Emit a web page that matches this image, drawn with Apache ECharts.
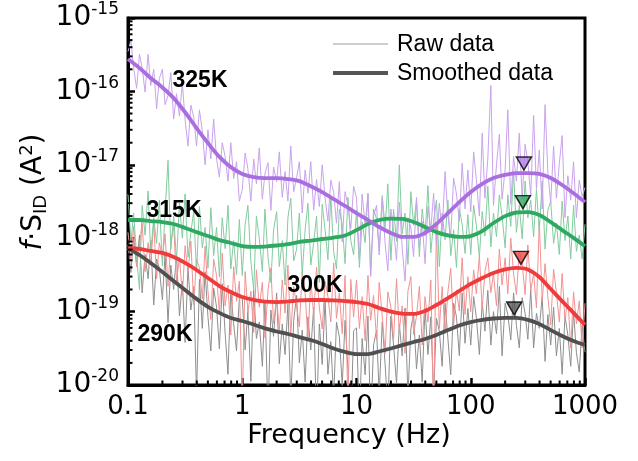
<!DOCTYPE html>
<html><head><meta charset="utf-8">
<script src="https://cdn.jsdelivr.net/npm/echarts@6/dist/echarts.min.js"></script>
<style>html,body{margin:0;padding:0;background:#fff}#c{width:638px;height:461px}</style>
</head><body><div id="c"></div>
<script>
// ---------------- data ----------------
const rawFreq = [
  0.1,0.106,0.112,0.119,0.126,0.133,0.141,0.15,0.158,0.168,0.178,0.188,0.2,0.211,0.224,0.237,0.251,0.266,0.282,0.299,
  0.316,0.335,0.355,0.376,0.398,0.422,0.447,0.473,0.501,0.531,0.562,0.596,0.631,0.668,0.708,0.75,0.794,0.841,0.891,0.944,
  1,1.06,1.12,1.19,1.26,1.33,1.41,1.5,1.58,1.68,1.78,1.88,2,2.11,2.24,2.37,2.51,2.66,2.82,2.99,
  3.16,3.35,3.55,3.76,3.98,4.22,4.47,4.73,5.01,5.31,5.62,5.96,6.31,6.68,7.08,7.5,7.94,8.41,8.91,9.44,
  10,10.6,11.2,11.9,12.6,13.3,14.1,15,15.8,16.8,17.8,18.8,20,21.1,22.4,23.7,25.1,26.6,28.2,29.9,
  31.6,33.5,35.5,37.6,39.8,42.2,44.7,47.3,50.1,53.1,56.2,59.6,63.1,66.8,70.8,75,79.4,84.1,89.1,94.4,
  100,106,112,119,126,133,141,150,158,168,178,188,200,211,224,237,251,266,282,299,
  316,335,355,376,398,422,447,473,501,531,562,596,631,668,708,750,794,841,891,944,1000];

const raw325 = [
  3.5e-16,5e-16,2.1e-16,1.1e-16,3.2e-16,2.1e-16,9.8e-17,3.2e-16,1.2e-16,2e-16,5.8e-17,1.5e-16,2e-16,6.6e-17,8.7e-17,1.8e-16,4.2e-17,9.3e-17,4.6e-17,1.3e-16,
  4.1e-17,1.8e-17,6.5e-17,4.5e-17,1.8e-17,5.6e-17,2.9e-17,1e-17,3e-17,1.2e-17,4.2e-17,1.2e-17,6.8e-18,2e-17,1.3e-17,6e-18,2e-17,6.5e-18,1.1e-17,3.2e-18,
  4.6e-18,1.45e-17,8.9e-18,3.2e-18,1.2e-17,5.5e-18,1.7e-17,3.4e-18,7.6e-18,1.07e-17,2.4e-18,9.3e-18,5.9e-18,1.5e-17,3.6e-18,8.1e-18,3.2e-18,1.8e-17,4.3e-18,6.6e-18,
  1.1e-17,2.2e-18,8.5e-18,4.1e-18,1.1e-17,2.4e-18,6.3e-18,2.7e-18,1e-17,3.5e-18,1.7e-18,6.2e-18,4.2e-18,1.6e-18,5.9e-18,8.9e-19,4.3e-18,2.8e-18,1.35e-18,5.1e-18,
  3.5e-18,5.2e-19,4e-18,1.5e-18,4.1e-18,3e-19,2e-18,2.8e-18,5.9e-19,3.5e-18,8.5e-19,3.6e-19,2.5e-18,1.3e-18,5e-19,3.1e-18,7.4e-19,2.6e-19,1.9e-18,1.4e-18,
  5.6e-19,3.6e-18,7.4e-19,1.7e-18,4.5e-19,2.7e-18,1.3e-18,4.1e-18,7.9e-19,3e-18,1.2e-18,8.1e-18,2e-18,1.07e-18,6.6e-18,4e-18,1.7e-18,1.05e-17,2.5e-18,8.5e-18,
  2.3e-18,1.5e-17,6.2e-18,2e-18,2.7e-17,3.5e-18,1.2e-17,1.2e-16,2.8e-18,1e-17,2.6e-17,3.4e-18,8.7e-18,5.6e-17,2.9e-18,1.3e-17,6e-18,2.7e-17,3.4e-18,1.9e-17,
  1.07e-17,3.8e-18,4.7e-17,4.7e-18,1.6e-17,2.5e-18,6.6e-17,7.9e-18,3e-18,1.8e-17,3.5e-18,1.05e-17,2.5e-17,1.9e-18,7.1e-18,3.3e-18,1.1e-17,1.9e-18,6.2e-18,3.7e-18,4.9e-18];

const raw315 = [
  4e-18,8.9e-19,2.2e-18,5.6e-19,2e-19,2.8e-18,1.1e-18,4.4e-18,6.2e-19,1.9e-18,8.5e-19,3.3e-18,4.2e-19,2.3e-18,1.15e-17,7.1e-19,2e-18,4.9e-19,3e-18,1e-18,
  4e-18,5.5e-19,1.2e-18,2.3e-18,3.5e-19,2.7e-18,7.4e-19,1.4e-18,3.9e-19,2.6e-18,5.8e-19,1.4e-18,3e-19,1.9e-18,7.2e-19,2.8e-18,3.8e-19,9.3e-19,3.2e-19,1.8e-18,
  3.1e-19,1.55e-18,2.8e-18,4.9e-19,1.95e-19,2e-18,1e-18,3.5e-19,2.5e-18,5.6e-19,2.5e-19,1.3e-18,2.3e-18,4.1e-19,9.3e-19,2.3e-19,1.9e-18,3.5e-18,4.9e-19,7.1e-19,
  2.2e-18,3.2e-19,1.3e-18,3e-18,4.3e-19,8.7e-19,2e-18,2.5e-19,2.9e-18,1.3e-18,5.1e-19,3.7e-18,6.6e-19,3.8e-19,2.5e-18,1.55e-18,4.5e-19,3.6e-18,9.3e-19,5.9e-19,
  2.4e-18,4e-19,1.66e-18,8.7e-19,4e-18,3.3e-19,2.5e-18,1.8e-18,6.8e-19,3.8e-18,1.4e-18,5.5e-18,5e-19,2.5e-18,9.1e-19,1e-17,1.15e-18,2.2e-18,4.4e-19,4.3e-18,
  1.5e-18,3.2e-18,5.6e-19,2.5e-18,1.07e-18,5.2e-18,6.3e-19,1.7e-18,3.3e-18,4.1e-19,2.2e-18,9.5e-19,3.3e-18,5.8e-19,1.3e-18,4e-19,2.5e-18,1.55e-18,6.2e-19,2.1e-18,
  6e-19,2.8e-18,1.5e-18,5.5e-19,2.3e-18,1.07e-18,5.1e-18,7.6e-19,2.2e-18,1.05e-18,3.9e-18,2e-18,7.4e-19,3.9e-18,1.45e-18,8.3e-18,1.2e-18,2.8e-18,9.8e-19,6e-18,
  1.9e-18,3.3e-18,1.05e-18,4.6e-18,1.26e-18,6e-18,7.1e-19,2.4e-18,3.2e-18,8.5e-19,1.6e-18,6e-19,3.2e-18,9.3e-19,2e-18,5.2e-19,2.8e-18,6.6e-19,1.1e-18,5.2e-19,1.55e-18];

const raw300 = [
  1.2e-18,5.2e-19,1.45e-18,4.1e-19,7.9e-19,1.6e-18,3.5e-19,8.7e-19,4.3e-19,1.66e-18,2.8e-19,8.7e-19,5.4e-19,1.15e-18,2.2e-19,8.7e-19,1.5e-18,2.6e-19,5.5e-19,1.66e-19,
  7.9e-19,3.4e-19,9.1e-19,1.23e-19,5.2e-19,3.9e-19,1.48e-19,7.8e-19,1.86e-19,7.8e-20,5.2e-19,3.1e-19,9.3e-20,6.3e-19,1.2e-19,2.3e-19,4.8e-20,4.1e-19,1.38e-19,2.6e-19,
  5e-21,3.5e-19,9.8e-20,1.9e-19,5.2e-20,3.7e-19,1.15e-19,2.5e-19,4.4e-20,1.95e-19,3.9e-19,6.9e-20,1.55e-19,5.5e-20,2.7e-19,9.5e-20,4.3e-19,4.8e-20,2.2e-19,1.23e-19,
  6.2e-20,3.5e-19,1.8e-19,4e-20,2.8e-19,8.9e-20,4e-19,1.12e-19,5.8e-20,2.6e-19,1.6e-19,7.2e-20,4.6e-19,8.1e-20,1.8e-19,5e-20,3.1e-19,5.5e-21,2.75e-19,8.5e-20,
  2.7e-19,5.9e-20,1.6e-19,4e-20,3.1e-19,7.6e-20,1.66e-19,4.1e-20,2.5e-19,8.7e-20,2.7e-20,1.86e-19,1.15e-19,4.1e-20,2.8e-19,5.5e-20,1.2e-19,2.7e-20,1.9e-19,3e-19,
  4.9e-20,8.7e-20,2.2e-19,3.5e-20,1.6e-19,7.2e-20,2.7e-19,4.4e-21,1.45e-18,5.9e-20,2.2e-19,5e-20,1.86e-19,3.9e-19,6.5e-20,1.95e-19,1.02e-19,5.4e-19,9.1e-20,3e-19,
  1e-19,3.7e-19,1.74e-19,5.8e-19,1.07e-19,3.5e-19,5.4e-19,1.8e-19,3.3e-19,1.2e-19,7.1e-19,2.3e-19,5.4e-19,1.74e-19,1e-18,3.3e-19,1.7e-19,6.6e-19,4.5e-19,1.7e-19,
  8.1e-19,1.95e-19,3.3e-19,1.12e-19,1.7e-18,1.38e-19,4.5e-19,1.6e-19,6.6e-20,3.8e-19,1.8e-19,7.2e-20,3.3e-19,7.6e-20,1.55e-19,3.2e-20,1.86e-19,6.8e-20,1.4e-19,3.2e-20,1.3e-19];

const raw290 = [
  8.1e-19,3.4e-19,1e-18,4.2e-19,1.1e-18,1.8e-19,6e-19,2.8e-19,9.3e-19,1.23e-19,5.2e-19,3.9e-19,1.45e-19,6e-19,7.1e-20,4.3e-19,2e-19,5.9e-19,8.7e-20,2.6e-19,
  3.8e-20,4e-19,1.05e-19,2.2e-19,7.2e-21,2.75e-19,5.9e-20,3.5e-19,8.5e-20,2.9e-20,2.1e-19,1.15e-19,3.1e-20,2.4e-19,5.1e-20,1.4e-20,1.95e-19,6.8e-20,2.9e-20,1.6e-19,
  1.55e-19,3e-20,1.02e-19,1.12e-20,1.95e-19,4.3e-20,7.2e-20,1.8e-20,1.38e-19,3.8e-21,1.05e-19,4.6e-20,1.8e-19,1.95e-20,6.8e-20,2.6e-20,1.26e-19,6.2e-21,7.6e-20,1.66e-19,
  2e-20,5.6e-20,1.1e-20,8.5e-20,3e-20,1.15e-19,3.1e-21,6.8e-20,1.9e-20,1.45e-19,1.4e-20,3.9e-20,6.6e-21,7.2e-20,4.5e-20,9.8e-21,7.6e-20,1.66e-20,2.8e-21,5.5e-20,
  6e-20,3.4e-21,4.3e-20,1.38e-20,8.7e-20,2.8e-21,3.5e-20,5.6e-20,7.1e-21,7.2e-20,1.9e-20,4.8e-21,8.7e-20,3.5e-20,1.05e-20,6.8e-20,2.5e-20,1.12e-19,7.1e-21,5.8e-20,
  9.3e-20,1.66e-20,4.8e-20,1.1e-20,1.12e-19,2.6e-20,8.5e-20,7.1e-21,8.1e-20,5.4e-20,1.8e-20,1.3e-19,4.3e-20,1.38e-20,1.3e-19,8.5e-20,2.5e-20,1.8e-19,3.7e-20,1.1e-19,
  3.5e-20,1.6e-19,8.3e-20,2.6e-20,1.35e-19,5.4e-20,1.95e-19,3.5e-20,1e-19,5e-20,2.2e-19,2.5e-20,1.3e-19,9.1e-20,4.1e-20,1.8e-19,6.5e-20,3.2e-20,1.55e-19,9.5e-20,
  4.2e-20,2e-19,3.2e-20,9.5e-20,5.9e-20,1.6e-19,2.1e-20,9.1e-20,3.5e-20,1.15e-19,2.5e-20,5.9e-20,1.4e-20,8.7e-20,4.8e-20,1.8e-20,1e-19,2.75e-20,1.5e-20,6.5e-20,2.8e-20];

const smFreq = [0.1,0.126,0.158,0.2,0.251,0.316,0.398,0.501,0.631,0.794,1,1.26,1.58,2,2.51,3.16,3.98,5.01,6.31,7.94,
  10,12.6,15.8,20,25.1,31.6,39.8,50.1,63.1,79.4,100,126,158,200,251,316,398,501,631,794,1000];
const sm325 = [2.76e-16,2.08e-16,1.52e-16,1.13e-16,8.1e-17,5.2e-17,3.17e-17,1.98e-17,1.28e-17,9.3e-18,7.5e-18,6.8e-18,6.6e-18,6.6e-18,6.4e-18,6e-18,5.1e-18,4.25e-18,3.4e-18,2.75e-18,
  2.2e-18,1.77e-18,1.42e-18,1.18e-18,1.04e-18,1.04e-18,1.18e-18,1.56e-18,2.2e-18,3.1e-18,4.25e-18,5.5e-18,6.6e-18,7.3e-18,7.7e-18,7.7e-18,7.5e-18,6.6e-18,5.3e-18,4.1e-18,3.1e-18];
const sm315 = [1.77e-18,1.77e-18,1.71e-18,1.66e-18,1.56e-18,1.38e-18,1.21e-18,1.07e-18,9.4e-19,8.6e-19,7.8e-19,7.6e-19,7.7e-19,7.95e-19,8.3e-19,8.9e-19,9.3e-19,9.75e-19,1.02e-18,1.09e-18,
  1.29e-18,1.56e-18,1.77e-18,1.85e-18,1.83e-18,1.66e-18,1.42e-18,1.21e-18,1.09e-18,1.04e-18,1.07e-18,1.25e-18,1.61e-18,2e-18,2.24e-18,2.27e-18,2.07e-18,1.66e-18,1.29e-18,1.01e-18,7.8e-19];
const sm300 = [7.35e-19,7.13e-19,6.7e-19,6.3e-19,5.55e-19,4.6e-19,3.69e-19,2.87e-19,2.23e-19,1.85e-19,1.58e-19,1.44e-19,1.37e-19,1.35e-19,1.37e-19,1.42e-19,1.44e-19,1.44e-19,1.42e-19,1.39e-19,
  1.35e-19,1.27e-19,1.12e-19,1e-19,9.4e-20,9.3e-20,1.02e-19,1.23e-19,1.53e-19,1.91e-19,2.38e-19,2.87e-19,3.36e-19,3.75e-19,3.93e-19,3.75e-19,2.96e-19,2.03e-19,1.39e-19,9.6e-20,6.6e-20];
const sm290 = [7.35e-19,5.9e-19,4.6e-19,3.47e-19,2.61e-19,1.97e-19,1.49e-19,1.16e-19,9.6e-20,8.2e-20,7.45e-20,6.67e-20,5.9e-20,5.36e-20,4.95e-20,4.5e-20,4.1e-20,3.62e-20,3.14e-20,2.82e-20,
  2.64e-20,2.64e-20,2.86e-20,3.14e-20,3.5e-20,3.85e-20,4.24e-20,4.8e-20,5.6e-20,6.47e-20,7.2e-20,7.7e-20,8.05e-20,8.2e-20,8.2e-20,7.7e-20,6.78e-20,5.6e-20,4.65e-20,3.97e-20,3.5e-20];

const peakFreq = [292, 286, 275, 240];
const peakVal  = [1.04e-17, 3.1e-18, 5.4e-19, 1.1e-19];
const tempLabels = ['325K','315K','300K','290K'];
const minorMantissa = [2,3,4,5,6,7,8,9];
const xDecades = [0.1,1,10,100];
const yDecades = [1e-20,1e-19,1e-18,1e-17,1e-16];

// ---------------- styles ----------------
const rawColors = ['#c9a3ee','#84cc9f','#f29292','#8e8e8e'];
const smColors  = ['#a96fdf','#2fa862','#ef3b3b','#505050'];
const triColors = ['#b27de6','#2fa862','#ef4545','#555555'];
const FONT = 'DejaVu Sans';

const zip = (f, v) => f.map((x, i) => [x, v[i]]);
const raws = [raw325, raw315, raw300, raw290];
const sms = [sm325, sm315, sm300, sm290];

const minorData = [];
xDecades.forEach(d => minorMantissa.forEach(m => minorData.push([+(m*d).toPrecision(3), 1e-20, 0])));
yDecades.forEach(d => minorMantissa.forEach(m => minorData.push([0.1, +(m*d).toPrecision(3), 1])));

const series = [];
[3,2,1,0].forEach(k => series.push({
  type:'line', data: zip(rawFreq, raws[k]), symbol:'none', silent:true, z:2,
  lineStyle:{width:1, color: rawColors[k]}
}));
[3,2,1,0].forEach(k => series.push({
  type:'line', data: zip(smFreq, sms[k]), symbol:'none', smooth:0.3, silent:true, z:3,
  lineStyle:{width:3.8, color: smColors[k]}
}));
series.push({
  type:'scatter', z:5, silent:true, symbol:'triangle', symbolRotate:180, symbolSize:[15,13],
  data: peakFreq.map((f,i)=>({value:[f, peakVal[i]], itemStyle:{color:triColors[i], borderColor:'#000', borderWidth:1.5}}))
});
series.push({
  type:'custom', z:6, silent:true, clip:false, data: minorData,
  renderItem: function(params, api){
    const kind = api.value(2);
    if (kind === 0) {
      const p = api.coord([api.value(0), 1e-20]);
      return {type:'line', shape:{x1:p[0], y1:p[1], x2:p[0], y2:p[1]-4.5}, style:{stroke:'#000', lineWidth:2}};
    }
    const p = api.coord([0.1, api.value(1)]);
    return {type:'line', shape:{x1:p[0], y1:p[1], x2:p[0]+4.5, y2:p[1]}, style:{stroke:'#000', lineWidth:2}};
  }
});

const labelPos = [[200,81],[174,211],[315,286],[165,335]];

const chart = echarts.init(document.getElementById('c'), null, {renderer:'canvas'});
chart.setOption({
  animation:false,
  backgroundColor:'#fff',
  grid:{left:128, right:53, top:18, bottom:76, show:true, borderColor:'#000', borderWidth:3, backgroundColor:'transparent'},
  xAxis:{
    type:'log', logBase:10, min:0.1, max:1000,
    axisLine:{show:true, onZero:false, lineStyle:{color:'#000', width:3}},
    axisTick:{show:true, inside:true, length:7, lineStyle:{color:'#000', width:2.5}},
    splitLine:{show:false},
    axisLabel:{margin:9, color:'#000', fontSize:26, fontFamily:FONT,
      formatter: v => String(+(+v).toPrecision(3))}
  },
  yAxis:{
    type:'log', logBase:10, min:1e-20, max:1e-15,
    axisLine:{show:true, onZero:false, lineStyle:{color:'#000', width:3}},
    axisTick:{show:true, inside:true, length:7, lineStyle:{color:'#000', width:2.5}},
    splitLine:{show:false},
    axisLabel:{margin:9, color:'#000', fontFamily:FONT,
      formatter: v => '{b|10}{s|' + Math.round(Math.log10(v)) + '}',
      rich:{
        b:{fontSize:28, fontFamily:FONT, color:'#000'},
        s:{fontSize:17, fontFamily:FONT, color:'#000', padding:[0,0,16,0]}
      }}
  },
  series: series,
  graphic:[
    {type:'line', shape:{x1:333, y1:44, x2:388, y2:44}, style:{stroke:'#9c9c9c', lineWidth:1.2}, z:10},
    {type:'line', shape:{x1:333, y1:73, x2:388, y2:73}, style:{stroke:'#555', lineWidth:4}, z:10},
    {type:'text', x:397, y:45, z:10, style:{text:'Raw data', fontSize:23, fontFamily:'Liberation Sans', fill:'#000', verticalAlign:'middle'}},
    {type:'text', x:397, y:74, z:10, style:{text:'Smoothed data', fontSize:23, fontFamily:'Liberation Sans', fill:'#000', verticalAlign:'middle'}},
    {type:'text', x:349, y:436, z:10, style:{text:'Frequency (Hz)', fontSize:27, fontFamily:FONT, fill:'#000', align:'center', verticalAlign:'middle'}},
    {type:'text', x:34, y:192, rotation:Math.PI/2, z:10, style:{
      text:'{i|f}{n|·S}{sub|ID}{n| (A}{sup|2}{n|)}', align:'center', verticalAlign:'middle', fill:'#000',
      rich:{
        i:{fontSize:28, fontFamily:FONT, fontStyle:'italic'},
        n:{fontSize:28, fontFamily:FONT},
        sub:{fontSize:18, fontFamily:FONT, padding:[14,0,0,0]},
        sup:{fontSize:18, fontFamily:FONT, padding:[0,0,14,0]}
      }}}
  ].concat(tempLabels.map((t,i)=>({type:'text', x:labelPos[i][0], y:labelPos[i][1], z:10,
    style:{text:t, fontSize:23, fontWeight:'bold', fontFamily:'Liberation Sans', fill:'#000', align:'center', verticalAlign:'middle'}})))
});
</script></body></html>
